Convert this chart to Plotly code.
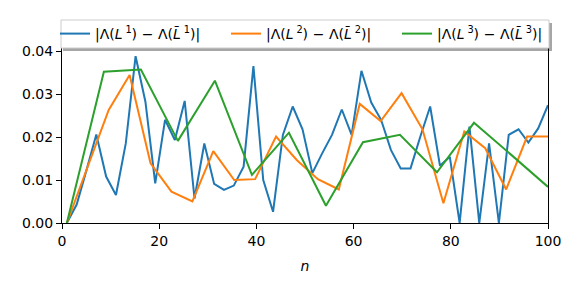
import numpy as np
import plotly.graph_objects as go

# ---- data ----
n1 = np.linspace(1, 100, 50)
diff1 = [0.0, 0.0043, 0.0123, 0.0206, 0.0108, 0.0065, 0.0185, 0.0388, 0.0282, 0.0092,
         0.0240, 0.0193, 0.0284, 0.0057, 0.0185, 0.0091, 0.0077, 0.0087, 0.0131, 0.0365,
         0.0100, 0.0026, 0.0205, 0.0271, 0.0218, 0.0116, 0.0162, 0.0205, 0.0264, 0.0205,
         0.0354, 0.0280, 0.0240, 0.0170, 0.0127, 0.0127, 0.0201, 0.0271, 0.0133, 0.0154,
         0.0, 0.0224, 0.0, 0.0185, 0.0, 0.0205, 0.0218, 0.0187, 0.0220, 0.0274]

n2 = np.linspace(1, 100, 24)
diff2 = [0.0, 0.0133, 0.0263, 0.0344, 0.0139, 0.0073, 0.0050, 0.0167, 0.0100, 0.0102,
         0.0201, 0.0146, 0.0102, 0.0078, 0.0277, 0.0237, 0.0302, 0.0218, 0.0046, 0.0213,
         0.0174, 0.0078, 0.0201, 0.0201]

n3 = np.linspace(1, 100, 14)
diff3 = [0.0, 0.0352, 0.0357, 0.0191, 0.0331, 0.0112, 0.0210, 0.0040, 0.0188, 0.0205,
         0.0118, 0.0233, 0.0159, 0.0084]

names = [
    "|Λ(<i>L</i>\u2009<sup>1</sup>)\u2004−\u2004Λ(<i>L̄</i>\u2009<sup>1</sup>)|",
    "|Λ(<i>L</i>\u2009<sup>2</sup>)\u2004−\u2004Λ(<i>L̄</i>\u2009<sup>2</sup>)|",
    "|Λ(<i>L</i>\u2009<sup>3</sup>)\u2004−\u2004Λ(<i>L̄</i>\u2009<sup>3</sup>)|",
]
colors = ["#1f77b4", "#ff7f0e", "#2ca02c"]

x_ticks = [0, 20, 40, 60, 80, 100]
y_ticks = [0.0, 0.01, 0.02, 0.03, 0.04]

# ---- figure ----
# the page body has an 8px margin, so the figure starts at page (8, 8)
OFF = 8
W, H = 581 - 2 * OFF, 291 - 2 * OFF
L = 62 - OFF
T = 48 - OFF
R = W - (548 - OFF)
B = H - (223 - OFF)
pw, ph = W - L - R, H - T - B

def px(xpage):
    return (xpage - OFF - L) / pw

def py(ypage):
    return (H - B - (ypage - OFF)) / ph

fig = go.Figure()
for xs, ys, nm, c in zip([n1, n2, n3], [diff1, diff2, diff3], names, colors):
    fig.add_trace(go.Scatter(x=xs, y=ys, mode="lines", name=nm,
                             line=dict(color=c, width=2)))

font = dict(family="DejaVu Sans", size=14, color="black")

axis_common = dict(showgrid=False, zeroline=False, showline=True, linecolor="black",
                   linewidth=1, mirror=True, ticks="outside", ticklen=5, tickwidth=1,
                   tickcolor="black", tickfont=font)

fig.update_layout(
    width=W, height=H,
    margin=dict(l=L, r=R, t=T, b=B, autoexpand=False),
    paper_bgcolor="white", plot_bgcolor="white",
    font=font,
    xaxis=dict(range=[0, 100], tickvals=x_ticks, **axis_common,
               title=dict(text="<i>n</i>", font=font, standoff=13)),
    yaxis=dict(range=[0, 0.0407], tickvals=y_ticks, tickformat=".2f", **axis_common),
    legend=dict(orientation="h", x=px(55), xanchor="left", y=py(34), yanchor="middle",
                bgcolor="rgba(0,0,0,0)", borderwidth=0, font=font,
                entrywidth=126, entrywidthmode="pixels", tracegroupgap=0,
                itemclick=False, itemdoubleclick=False),
    shapes=[
        # legend shadow
        dict(type="rect", xref="paper", yref="paper", layer="above",
             x0=px(63), x1=px(552), y0=py(51), y1=py(23),
             fillcolor="rgba(0,0,0,0.35)", line=dict(width=0)),
        # legend box
        dict(type="rect", xref="paper", yref="paper", layer="above",
             x0=px(61), x1=px(549), y0=py(48), y1=py(20),
             fillcolor="white", line=dict(color="#cccccc", width=1)),
    ],
)

fig.write_html("out.html")
